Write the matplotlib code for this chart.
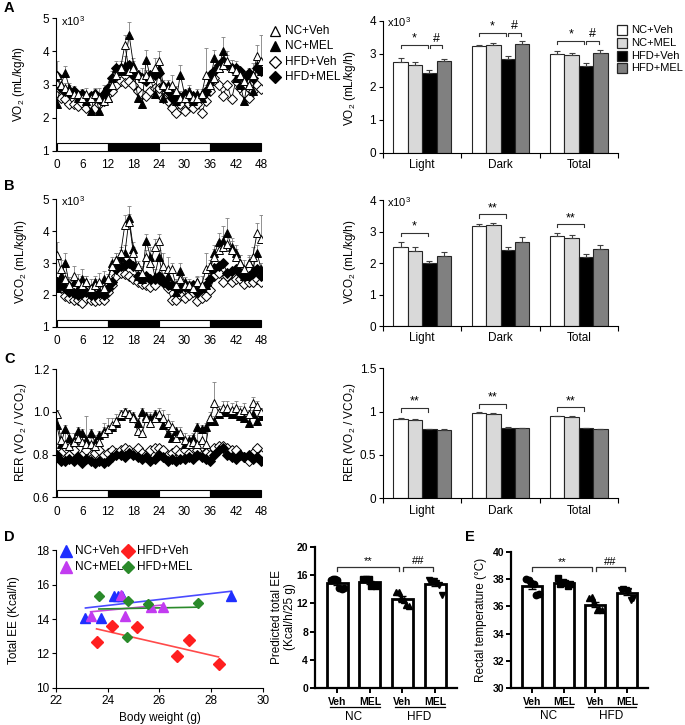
import numpy as np
import matplotlib
matplotlib.use('Agg')
import matplotlib.pyplot as plt
from matplotlib.patches import Rectangle

plt.rcParams['font.family'] = ['Liberation Sans', 'DejaVu Sans']
plt.rcParams['mathtext.fontset'] = 'custom'
plt.rcParams['mathtext.rm'] = 'Liberation Sans'
plt.rcParams['mathtext.it'] = 'Liberation Sans:italic'
plt.rcParams['mathtext.bf'] = 'Liberation Sans:bold'
plt.rcParams['font.size'] = 8

# ---------------- data ----------------
groups = ['NC+Veh', 'NC+MEL', 'HFD+Veh', 'HFD+MEL']
hours = np.arange(49)
hour_ticks = [0, 6, 12, 18, 24, 30, 36, 42, 48]
phase_edges = [0, 12, 24, 36, 48]
periods = ['Light', 'Dark', 'Total']

vo2_ncveh = [3.3, 3.0, 2.9, 2.8, 2.7, 2.7, 2.6, 2.7, 2.6, 2.7, 2.6, 2.5, 2.6, 3.0, 3.3, 3.5, 4.2, 3.4, 3.5, 3.3,
             3.2, 3.3, 3.2, 3.5, 3.7, 3.0, 2.9, 3.0, 2.8, 2.6, 2.6, 2.7, 2.6, 2.6, 2.7, 3.3, 3.0, 3.2, 3.5, 3.6,
             3.7, 3.5, 3.4, 3.3, 3.1, 3.0, 3.3, 3.85, 3.7]
vo2_ncmel = [2.4, 3.0, 3.35, 2.9, 2.8, 2.6, 2.7, 2.5, 2.2, 2.7, 2.2, 2.8, 2.6, 3.2, 3.5, 3.4, 3.6, 4.5, 3.6, 2.6,
             2.4, 3.75, 3.2, 2.7, 3.5, 2.6, 3.0, 2.8, 2.5, 3.3, 2.7, 2.8, 2.5, 2.7, 2.6, 2.8, 3.1, 3.8, 3.5, 4.0,
             3.6, 3.5, 3.2, 3.0, 2.5, 3.3, 2.8, 3.6, 3.4]
vo2_hfdveh = [2.65, 2.6, 2.55, 2.4, 2.4, 2.35, 2.45, 2.3, 2.4, 2.3, 2.4, 2.5, 2.7, 2.8, 3.0, 3.1, 3.05, 3.1, 3.0,
              2.8, 2.7, 2.65, 2.8, 2.9, 2.9, 2.6, 2.5, 2.3, 2.15, 2.4, 2.2, 2.4, 2.3, 2.4, 2.15, 2.5, 2.8, 3.2,
              3.0, 2.65, 3.0, 2.55, 3.1, 2.9, 2.75, 2.6, 2.8, 3.0, 2.85]
vo2_hfdmel = [3.25, 2.9, 2.8, 2.75, 2.8, 2.65, 2.7, 2.6, 2.65, 2.7, 2.55, 2.7, 2.9, 3.2, 3.5, 3.5, 3.45, 3.6, 3.3,
              3.3, 3.2, 3.1, 3.3, 3.3, 3.35, 2.95, 2.8, 2.6, 2.7, 2.6, 2.7, 2.6, 2.65, 2.6, 2.65, 2.8, 3.3, 3.4,
              3.6, 3.7, 3.6, 3.5, 3.5, 3.4, 3.2, 3.35, 3.2, 3.5, 3.4]
vo2_ncveh_err = [0.40, 0.25, 0.15, 0.20, 0.15, 0.10, 0.20, 0.20, 0.10, 0.15, 0.30, 0.15, 0.10, 0.15, 0.20, 0.20,
                 0.30, 0.15, 0.20, 0.15, 0.30, 0.15, 0.15, 0.30, 0.30, 0.15, 0.15, 0.30, 0.15, 0.20, 0.15, 0.20,
                 0.15, 0.10, 0.15, 0.80, 0.20, 0.20, 0.20, 0.30, 0.30, 0.25, 0.30, 0.20, 0.20, 0.35, 0.35, 0.35, 0.80]
vo2_ncmel_err = [0.20, 0.30, 0.20, 0.15, 0.15, 0.20, 0.15, 0.10, 0.15, 0.20, 0.15, 0.20, 0.15, 0.20, 0.20, 0.20,
                 0.25, 0.40, 0.20, 0.20, 0.15, 0.30, 0.20, 0.15, 0.20, 0.15, 0.15, 0.15, 0.15, 0.30, 0.15, 0.20,
                 0.15, 0.15, 0.15, 0.20, 0.20, 0.25, 0.20, 0.45, 0.30, 0.25, 0.30, 0.25, 0.20, 0.20, 0.30, 0.25, 0.20]

vco2_ncveh = [3.25, 2.8, 2.5, 2.3, 2.6, 2.4, 2.3, 2.4, 2.2, 2.3, 2.4, 2.2, 2.5, 2.9, 3.1, 3.3, 4.2, 4.3, 3.3, 2.9,
              2.7, 3.2, 3.0, 3.5, 3.7, 2.9, 2.8, 2.8, 2.3, 2.5, 2.3, 2.3, 2.2, 2.4, 2.3, 2.8, 2.9, 3.2, 3.4, 3.5,
              3.6, 3.4, 3.2, 3.0, 2.8, 3.0, 3.2, 3.95, 3.75]
vco2_ncmel = [2.2, 2.6, 3.0, 2.3, 2.4, 2.2, 2.5, 2.4, 2.1, 2.4, 2.1, 2.5, 2.5, 3.0, 3.1, 3.2, 3.3, 4.4, 3.45, 2.6,
              2.5, 3.7, 3.2, 2.6, 3.2, 2.5, 2.6, 2.3, 2.1, 2.75, 2.4, 2.3, 2.2, 2.4, 2.2, 2.3, 2.8, 3.3, 3.65, 3.7,
              3.95, 3.5, 3.3, 3.0, 2.6, 3.0, 2.8, 3.3, 2.8]
vco2_hfdveh = [2.4, 2.2, 1.95, 1.9, 1.85, 1.85, 1.75, 1.9, 1.85, 1.8, 1.85, 1.85, 2.1, 2.3, 2.6, 2.7, 2.65, 2.6,
               2.5, 2.4, 2.35, 2.3, 2.25, 2.3, 2.5, 2.4, 2.2, 1.85, 1.85, 2.0, 1.9, 2.0, 2.1, 1.8, 1.9, 1.95, 2.15,
               2.6, 2.7, 2.4, 2.6, 2.4, 2.5, 2.5, 2.35, 2.4, 2.4, 2.5, 2.4]
vco2_hfdmel = [2.4, 2.3, 2.2, 2.1, 2.05, 2.0, 2.05, 2.1, 2.0, 2.0, 2.05, 2.0, 2.2, 2.4, 2.8, 2.9, 2.95, 3.0, 2.9,
               2.6, 2.5, 2.6, 2.5, 2.5, 2.6, 2.4, 2.3, 2.3, 2.2, 2.2, 2.25, 2.2, 2.3, 2.1, 2.2, 2.3, 2.5, 2.85,
               2.9, 3.0, 2.7, 2.75, 2.8, 2.7, 2.6, 2.6, 2.7, 2.8, 2.6]
vco2_ncveh_err = [0.40, 0.30, 0.20, 0.25, 0.30, 0.25, 0.30, 0.20, 0.30, 0.20, 0.30, 0.20, 0.15, 0.15, 0.20, 0.20,
                  0.30, 0.25, 0.20, 0.15, 0.20, 0.20, 0.20, 0.25, 0.20, 0.40, 0.40, 0.20, 0.20, 0.25, 0.15, 0.20,
                  0.15, 0.20, 0.30, 0.50, 0.20, 0.25, 0.30, 0.35, 0.30, 0.30, 0.25, 0.25, 0.30, 0.25, 0.30, 0.30, 0.75]
vco2_ncmel_err = [0.20, 0.25, 0.30, 0.20, 0.20, 0.20, 0.30, 0.20, 0.15, 0.20, 0.15, 0.25, 0.15, 0.20, 0.20, 0.20,
                  0.25, 0.40, 0.20, 0.20, 0.20, 0.20, 0.30, 0.20, 0.20, 0.20, 0.15, 0.15, 0.15, 0.25, 0.15, 0.15,
                  0.15, 0.15, 0.15, 0.20, 0.20, 0.25, 0.30, 0.45, 0.45, 0.30, 0.25, 0.25, 0.20, 0.20, 0.25, 0.25, 0.20]

rer_ncveh = [0.99, 0.87, 0.85, 0.84, 0.86, 0.88, 0.86, 0.85, 0.85, 0.84, 0.86, 0.90, 0.92, 0.94, 0.96, 0.99, 1.00,
             0.99, 0.97, 0.91, 0.90, 0.97, 0.95, 0.97, 0.99, 0.97, 0.95, 0.93, 0.88, 0.90, 0.87, 0.85, 0.86, 0.85,
             0.87, 0.85, 0.97, 1.04, 1.00, 1.02, 1.02, 1.01, 1.02, 1.00, 1.01, 0.99, 1.04, 1.03, 1.00]
rer_ncmel = [0.94, 0.85, 0.92, 0.88, 0.87, 0.91, 0.90, 0.87, 0.90, 0.86, 0.89, 0.91, 0.92, 0.93, 0.95, 0.98, 1.00,
             0.99, 0.98, 0.95, 1.00, 0.98, 0.97, 0.99, 0.97, 0.94, 0.90, 0.88, 0.91, 0.89, 0.85, 0.87, 0.88, 0.93,
             0.92, 0.93, 0.96, 0.96, 0.99, 1.00, 1.00, 0.99, 0.99, 0.98, 0.97, 0.95, 0.99, 0.96, 0.98]
rer_hfdveh = [0.79, 0.81, 0.78, 0.80, 0.82, 0.79, 0.80, 0.82, 0.78, 0.81, 0.82, 0.80, 0.81, 0.82, 0.81, 0.82, 0.83,
              0.82, 0.81, 0.83, 0.81, 0.80, 0.82, 0.83, 0.83, 0.82, 0.80, 0.81, 0.82, 0.81, 0.82, 0.81, 0.83, 0.82,
              0.84, 0.81, 0.80, 0.83, 0.84, 0.84, 0.83, 0.82, 0.82, 0.80, 0.79, 0.77, 0.81, 0.83, 0.80]
rer_hfdmel = [0.80, 0.77, 0.77, 0.78, 0.77, 0.79, 0.76, 0.78, 0.77, 0.76, 0.77, 0.76, 0.77, 0.79, 0.80, 0.80, 0.79,
              0.81, 0.80, 0.79, 0.78, 0.79, 0.77, 0.78, 0.80, 0.79, 0.77, 0.78, 0.77, 0.78, 0.78, 0.79, 0.78, 0.80,
              0.79, 0.78, 0.77, 0.80, 0.82, 0.83, 0.80, 0.79, 0.78, 0.80, 0.79, 0.80, 0.78, 0.79, 0.77]
rer_ncveh_err = [0.02, 0.03, 0.06, 0.03, 0.04, 0.03, 0.04, 0.13, 0.03, 0.03, 0.03, 0.05, 0.05, 0.03, 0.03, 0.02,
                 0.02, 0.02, 0.02, 0.03, 0.03, 0.03, 0.05, 0.03, 0.03, 0.04, 0.04, 0.03, 0.03, 0.03, 0.03, 0.03,
                 0.03, 0.06, 0.04, 0.08, 0.03, 0.10, 0.03, 0.03, 0.03, 0.03, 0.03, 0.03, 0.03, 0.02, 0.03, 0.02, 0.02]
rer_ncmel_err = [0.03, 0.05, 0.02, 0.02, 0.03, 0.02, 0.02, 0.02, 0.02, 0.03, 0.02, 0.02, 0.02, 0.02, 0.02, 0.02,
                 0.02, 0.02, 0.02, 0.02, 0.02, 0.02, 0.02, 0.02, 0.02, 0.02, 0.02, 0.02, 0.02, 0.02, 0.02, 0.02,
                 0.02, 0.02, 0.02, 0.02, 0.02, 0.02, 0.02, 0.02, 0.02, 0.02, 0.02, 0.02, 0.02, 0.02, 0.02, 0.02, 0.02]

# bar summaries: rows = groups, cols = Light/Dark/Total
vo2_means = [[2.75, 3.23, 3.00], [2.65, 3.27, 2.97], [2.42, 2.85, 2.63], [2.78, 3.30, 3.03]]
vo2_errs = [[0.13, 0.03, 0.08], [0.10, 0.04, 0.05], [0.08, 0.09, 0.08], [0.06, 0.09, 0.08]]
vco2_means = [[2.52, 3.19, 2.86], [2.39, 3.20, 2.79], [1.99, 2.41, 2.20], [2.22, 2.68, 2.44]]
vco2_errs = [[0.15, 0.06, 0.08], [0.12, 0.08, 0.09], [0.08, 0.10, 0.08], [0.12, 0.13, 0.12]]
rer_means = [[0.915, 0.99, 0.95], [0.90, 0.975, 0.935], [0.80, 0.815, 0.81], [0.79, 0.81, 0.80]]
rer_errs = [[0.008, 0.005, 0.005], [0.01, 0.01, 0.01], [0.005, 0.005, 0.005], [0.005, 0.005, 0.005]]

# significance: (period, group_a, group_b, height, text)
vo2_sig = [(0, 0, 2, 3.26, '*'), (0, 2, 3, 3.26, '#'), (1, 0, 2, 3.64, '*'), (1, 2, 3, 3.64, '#'),
           (2, 0, 2, 3.39, '*'), (2, 2, 3, 3.39, '#')]
vco2_sig = [(0, 0, 2, 2.96, '*'), (1, 0, 2, 3.54, '**'), (2, 0, 2, 3.23, '**')]
rer_sig = [(0, 0, 2, 1.04, '**'), (1, 0, 2, 1.085, '**'), (2, 0, 2, 1.05, '**')]

# D scatter: body weight vs total EE
bw_ncveh = [23.14, 23.73, 24.25, 24.40, 24.54, 28.79]
ee_ncveh = [14.08, 14.08, 15.36, 15.36, 15.36, 15.36]
bw_ncmel = [23.34, 24.67, 24.50, 25.67, 26.16]
ee_ncmel = [14.18, 14.18, 15.40, 14.72, 14.72]
bw_hfdveh = [23.57, 24.16, 25.15, 26.67, 27.16, 28.29]
ee_hfdveh = [12.68, 13.61, 13.54, 11.85, 12.78, 11.40]
bw_hfdmel = [23.66, 24.79, 24.76, 25.57, 27.49]
ee_hfdmel = [15.34, 15.07, 12.94, 14.88, 14.92]

# D predicted EE and E rectal temperature
pee_ncveh = [15.3, 15.4, 15.4, 15.3, 14.1, 14.0, 14.2]
pee_ncmel = [15.5, 15.4, 15.5, 14.5, 14.6, 14.5]
pee_hfdveh = [13.6, 13.6, 12.7, 12.5, 11.7, 11.6]
pee_hfdmel = [15.3, 15.2, 15.1, 14.9, 14.6, 13.2]
temp_ncveh = [38.0, 37.9, 37.7, 37.6, 36.8, 36.9]
temp_ncmel = [38.1, 37.6, 37.8, 37.7, 37.5, 37.6]
temp_hfdveh = [36.6, 36.7, 36.3, 35.7, 35.8, 35.7]
temp_hfdmel = [37.2, 37.3, 37.2, 37.1, 36.5, 36.6]
treat_labels = ['Veh', 'MEL', 'Veh', 'MEL']
diet_labels = ['NC', 'HFD']

# ---------------- layout helpers ----------------
W, H = 685, 725
fig = plt.figure(figsize=(W / 100, H / 100), dpi=100)


def add_ax(x0, y0, x1, y1):
    return fig.add_axes([x0 / W, 1 - y1 / H, (x1 - x0) / W, (y1 - y0) / H])


ts_style = {'NC+Veh': ('^', 'white', 6.3), 'NC+MEL': ('^', 'black', 6.3),
            'HFD+Veh': ('D', 'white', 4.6), 'HFD+MEL': ('D', 'black', 4.6)}
draw_order = ['HFD+Veh', 'HFD+MEL', 'NC+MEL', 'NC+Veh']
bar_colors = ['white', '#d9d9d9', 'black', '#808080']


def draw_ts(ax, data, errs, ylo, yhi, yticks, ytl, barh):
    for name, e in errs.items():
        e = np.asarray(e)
        ax.errorbar(hours, data[name], yerr=[np.zeros_like(e), e], fmt='none', ecolor='#808080',
                    elinewidth=0.6, capsize=1.5, capthick=0.6, zorder=1)
    for name in draw_order:
        m, fc, ms = ts_style[name]
        ax.plot(hours, data[name], color='black', lw=0.6, marker=m, ms=ms, mfc=fc, mec='black',
                mew=0.7, zorder=2)
    for i in range(4):
        ax.add_patch(Rectangle((phase_edges[i], ylo), phase_edges[i + 1] - phase_edges[i], barh,
                               fc='white' if i % 2 == 0 else 'black', ec='black', lw=0.8,
                               clip_on=False, zorder=3))
    ax.set_xlim(-0.15, 48.15)
    ax.set_ylim(ylo, yhi)
    for s in ['top', 'right', 'bottom']:
        ax.spines[s].set_visible(False)
    ax.spines['left'].set_linewidth(0.8)
    ax.set_yticks(yticks)
    ax.set_yticklabels(ytl)
    ax.set_xticks(hour_ticks)
    ax.tick_params(axis='x', length=0, pad=6, labelsize=8.5)
    ax.tick_params(axis='y', length=3, width=0.8, labelsize=8.5, pad=2)
    ax.patch.set_alpha(0)


def draw_bars(ax, means, errs, ylo, yhi, yticks, ytl, sigs, tick_h):
    width = 0.184
    for k in range(4):
        xs = np.arange(3) + 0.5 + (k - 1.5) * width
        e = np.asarray(errs[k])
        ax.bar(xs, means[k], width=width, color=bar_colors[k], edgecolor='#262626', lw=0.8, zorder=2)
        ax.errorbar(xs, means[k], yerr=[np.zeros_like(e), e], fmt='none', ecolor='#404040',
                    elinewidth=0.8, capsize=2, capthick=0.8, zorder=3)
    for per, a, b, yy, txt in sigs:
        x1 = per + 0.5 + (a - 1.5) * width + (0.005 if a == 2 else 0)
        x2 = per + 0.5 + (b - 1.5) * width - 0.02
        ax.plot([x1, x1, x2, x2], [yy - tick_h, yy, yy, yy - tick_h], color='#333333', lw=0.8,
                zorder=4, clip_on=False)
        ax.text((x1 + x2) / 2, yy + tick_h * 0.1, txt, ha='center', va='bottom', fontsize=9)
    ax.set_xlim(0, 3)
    ax.set_ylim(ylo, yhi)
    for s in ['top', 'right']:
        ax.spines[s].set_visible(False)
    ax.spines['left'].set_linewidth(0.8)
    ax.spines['bottom'].set_linewidth(0.8)
    ax.set_xticks([0, 1, 2, 3])
    ax.set_xticklabels([])
    ax.set_xticks([0.5, 1.5, 2.5], minor=True)
    ax.set_xticklabels(periods, minor=True)
    ax.tick_params(axis='x', which='major', length=3.5, width=0.8)
    ax.tick_params(axis='x', which='minor', length=0, pad=4.5, labelsize=8.5)
    ax.set_yticks(yticks)
    ax.set_yticklabels(ytl)
    ax.tick_params(axis='y', length=3, width=0.8, labelsize=8.5, pad=2)
    ax.patch.set_alpha(0)


def draw_dotbars(ax, vals_list, markers, ylo, yhi, yticks, sigs, sig_y, sig_h, uline_y, group_y):
    for i, (vals, m) in enumerate(zip(vals_list, markers)):
        vals = np.asarray(vals)
        mean = vals.mean()
        sem = vals.std(ddof=1) / np.sqrt(len(vals))
        ax.bar(i, mean, width=0.64, facecolor='white', edgecolor='black', lw=2.0, zorder=1)
        offs = np.linspace(-0.2, 0.2, len(vals))
        ax.plot(i + offs, vals, ls='none', marker=m, color='black', ms=4.6, zorder=3)
        ax.errorbar(i, mean, yerr=sem, fmt='none', ecolor='black', elinewidth=1.0, capsize=3,
                    capthick=1.0, zorder=4)
    for (a, b, txt) in sigs:
        x1 = a + (0.02 if a == 2 else 0.0)
        x2 = b - (0.1 if b == 2 else 0.05)
        ax.plot([x1, x1, x2, x2], [sig_y - sig_h, sig_y, sig_y, sig_y - sig_h], color='#333333',
                lw=0.9, clip_on=False)
        ax.text((x1 + x2) / 2, sig_y + sig_h * 0.1, txt, ha='center', va='bottom', fontsize=8)
    ax.set_xlim(-0.68, 3.67)
    ax.set_ylim(ylo, yhi)
    for s in ['top', 'right']:
        ax.spines[s].set_visible(False)
    for s in ['left', 'bottom']:
        ax.spines[s].set_linewidth(1.6)
    ax.set_xticks(range(4))
    ax.set_xticklabels(treat_labels, fontweight='bold', fontsize=7.5)
    ax.set_yticks(yticks)
    ax.set_yticklabels([str(t) for t in yticks], fontweight='bold', fontsize=7.5)
    ax.tick_params(axis='both', length=3.5, width=1.4)
    ax.tick_params(axis='x', pad=2.5)
    ax.tick_params(axis='y', pad=1.5)
    tr = ax.get_xaxis_transform()
    for gi, g in enumerate(diet_labels):
        ax.plot([2 * gi - 0.22, 2 * gi + 1.3], [uline_y, uline_y], transform=tr, color='black',
                lw=0.9, clip_on=False)
        ax.text(2 * gi + 0.5, group_y, g, transform=tr, ha='center', va='center', fontsize=8.5)
    ax.patch.set_alpha(0)


# ---------------- panels A-C ----------------
axA1 = add_ax(56, 18.3, 262, 150.7)
draw_ts(axA1, dict(zip(groups, [vo2_ncveh, vo2_ncmel, vo2_hfdveh, vo2_hfdmel])),
        {'NC+Veh': vo2_ncveh_err, 'NC+MEL': vo2_ncmel_err}, 1, 5, [1, 2, 3, 4, 5],
        ['1', '2', '3', '4', '5'], 0.22)
axB1 = add_ax(56, 199.3, 262, 326.7)
draw_ts(axB1, dict(zip(groups, [vco2_ncveh, vco2_ncmel, vco2_hfdveh, vco2_hfdmel])),
        {'NC+Veh': vco2_ncveh_err, 'NC+MEL': vco2_ncmel_err}, 1, 5, [1, 2, 3, 4, 5],
        ['1', '2', '3', '4', '5'], 0.2)
axC1 = add_ax(56, 369.3, 262, 497.3)
draw_ts(axC1, dict(zip(groups, [rer_ncveh, rer_ncmel, rer_hfdveh, rer_hfdmel])),
        {'NC+Veh': rer_ncveh_err, 'NC+MEL': rer_ncmel_err}, 0.6, 1.2, [0.6, 0.8, 1.0, 1.2],
        ['0.6', '0.8', '1.0', '1.2'], 0.033)

axA2 = add_ax(383, 20.7, 618, 152.7)
draw_bars(axA2, vo2_means, vo2_errs, 0, 4, [0, 1, 2, 3, 4], ['0', '1', '2', '3', '4'], vo2_sig, 0.1)
axB2 = add_ax(383, 200, 618, 326)
draw_bars(axB2, vco2_means, vco2_errs, 0, 4, [0, 1, 2, 3, 4], ['0', '1', '2', '3', '4'], vco2_sig, 0.1)
axC2 = add_ax(383, 368.3, 618, 498.3)
draw_bars(axC2, rer_means, rer_errs, 0, 1.5, [0, 0.5, 1, 1.5], ['0', '0.5', '1', '1.5'], rer_sig, 0.04)

# ---------------- panel D scatter ----------------
axD1 = add_ax(56, 550.4, 262.7, 687.7)
d_sets = [(bw_ncveh, ee_ncveh, '^', '#1f2fff', '#4a4aff', 7.5),
          (bw_ncmel, ee_ncmel, '^', '#c23bf0', '#c848d8', 7.0),
          (bw_hfdveh, ee_hfdveh, 'D', '#ff1f1f', '#ff4a4a', 6.0),
          (bw_hfdmel, ee_hfdmel, 'D', '#2a8a2a', '#2a8a2a', 5.0)]
for bx, ey, m, c, lc, ms in d_sets:
    bx = np.asarray(bx)
    ey = np.asarray(ey)
    slope, icpt = np.polyfit(bx, ey, 1)
    xl = np.array([bx.min(), bx.max()])
    axD1.plot(xl, slope * xl + icpt, color=lc, lw=1.2, zorder=2)
for bx, ey, m, c, lc, ms in d_sets:
    axD1.plot(bx, ey, ls='none', marker=m, ms=ms, color=c, mec=c, zorder=3)
axD1.set_xlim(22, 30)
axD1.set_ylim(10, 18)
axD1.set_xticks([22, 24, 26, 28, 30])
axD1.set_yticks([10, 12, 14, 16, 18])
for s in ['top', 'right']:
    axD1.spines[s].set_visible(False)
for s in ['left', 'bottom']:
    axD1.spines[s].set_linewidth(0.8)
axD1.tick_params(axis='both', length=3, width=0.8, labelsize=8.5, pad=2)
axD1.patch.set_alpha(0)

axD2 = add_ax(315, 546.7, 457, 688.3)
draw_dotbars(axD2, [pee_ncveh, pee_ncmel, pee_hfdveh, pee_hfdmel], ['o', 's', '^', 'v'],
             0, 20, [0, 4, 8, 12, 16, 20], [(0, 2, '**'), (2, 3, '##')], 17.16, 0.6, -0.132, -0.2)

axE = add_ax(511, 551.7, 648, 688.3)
draw_dotbars(axE, [temp_ncveh, temp_ncmel, temp_hfdveh, temp_hfdmel], ['o', 's', '^', 'v'],
             30, 40, [30, 32, 34, 36, 38, 40], [(0, 2, '**'), (2, 3, '##')], 38.87, 0.3, -0.135, -0.203)

# ---------------- overlay: letters, labels, legends ----------------
ov = fig.add_axes([0, 0, 1, 1], zorder=10)
ov.set_xlim(0, W)
ov.set_ylim(H, 0)
ov.axis('off')

for letter, (x, y) in {'A': (4, 8), 'B': (4, 186), 'C': (4, 359), 'D': (4, 537), 'E': (465, 537)}.items():
    ov.text(x, y, letter, fontsize=10.5, fontweight='bold', ha='left', va='center')

for x, y in [(61, 21), (387, 22), (61, 201), (387, 202)]:
    ov.text(x, y, r'x10$^3$', fontsize=8, ha='left', va='center')

ylabels = [(19, 84, r'VO$_2$ (mL/kg/h)'), (350, 88, r'VO$_2$ (mL/kg/h)'),
           (21, 262, r'VCO$_2$ (mL/kg/h)'), (350, 262, r'VCO$_2$ (mL/kg/h)'),
           (21, 432, r'RER (VO$_2$ / VCO$_2$)'), (350, 432, r'RER (VO$_2$ / VCO$_2$)'),
           (14, 620, 'Total EE (Kcal/h)'), (277, 617, 'Predicted total EE'),
           (290, 617, '(Kcal/h/25 g)'), (481, 620, 'Rectal temperature (°C)')]
for x, y, t in ylabels:
    ov.text(x, y, t, rotation=90, ha='center', va='center', fontsize=8.5)
ov.text(160, 718, 'Body weight (g)', ha='center', va='center', fontsize=8.5)

# legend A (time series)
for (name, (m, fc, ms)), y in zip([(g, ts_style[g]) for g in groups], [31, 46, 62, 77]):
    ov.plot(275, y, marker=m, mfc=fc, mec='black', ms=ms + 1.5, mew=0.9)
    ov.text(285, y, name, ha='left', va='center', fontsize=8.5)
# legend A (bars)
for name, c, y in zip(groups, bar_colors, [30, 43, 55.5, 68]):
    ov.plot(622, y, marker='s', mfc=c, mec='#262626', ms=7.5, mew=0.9)
    ov.text(631, y, name, ha='left', va='center', fontsize=8)
# legend D
d_leg = [(66, 550.5, 'NC+Veh', 0), (128, 550.5, 'HFD+Veh', 2), (66, 566.5, 'NC+MEL', 1), (128, 566.5, 'HFD+MEL', 3)]
for x, y, name, k in d_leg:
    _, _, m, c, _, ms = d_sets[k]
    ov.plot(x, y, marker=m, color=c, ms=ms + 1)
    ov.text(x + 9, y, name, ha='left', va='center', fontsize=8.5)

fig.savefig('out.png', dpi=100)
